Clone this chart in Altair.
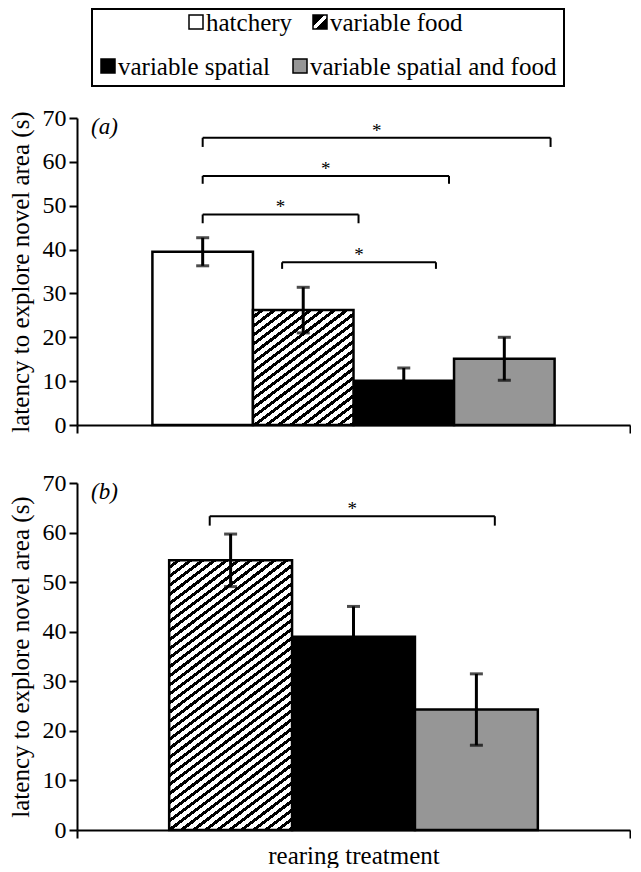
import math
import altair as alt
import pandas as pd

# ---------------- data ----------------
categories_a = ["hatchery", "variable food", "variable spatial", "variable spatial and food"]
means_a = [39.5, 26.2, 10.1, 15.1]
errs_a = [3.2, 5.2, 2.9, 4.9]

categories_b = ["variable food", "variable spatial", "variable spatial and food"]
means_b = [54.4, 39.0, 24.3]
errs_b = [5.3, 6.1, 7.2]

# significance brackets (x in bar-slot units, y in seconds)
bracket_a_left = [0.5, 0.5, 0.5, 1.29]
bracket_a_right = [3.96, 2.95, 2.05, 2.82]
bracket_a_y = [65.5, 56.8, 48.0, 37.1]
bracket_a_low = [63.4, 55.0, 46.0, 35.6]

bracket_b_left = [0.33]
bracket_b_right = [2.65]
bracket_b_y = [63.3]
bracket_b_low = [61.4]

legend_labels = ["hatchery", "variable food", "variable spatial", "variable spatial and food"]

# ---------------- style ----------------
FONT = "Liberation Serif"
W = 553
HA = 307
HB = 347
YMAX = 70
OUTER = 0.75
FILLS = {"hatchery": "white", "variable food": "white",
         "variable spatial": "black", "variable spatial and food": "#969696"}
HATCHED = "variable food"
YTITLE = "latency to explore novel area (s)"


def bars_df(cats, means, errs):
    n = len(cats)
    return pd.DataFrame({
        "cat": cats,
        "mean": means,
        "lo": [m - e for m, e in zip(means, errs)],
        "hi": [m + e for m, e in zip(means, errs)],
        "x0": [float(i) for i in range(n)],
        "x1": [float(i + 1) for i in range(n)],
        "xc": [i + 0.5 for i in range(n)],
    })


def brackets_df(left, right, y, low):
    return pd.DataFrame({
        "bl": left, "br": right, "by": y, "blow": low,
        "bc": [(l + r) / 2 for l, r in zip(left, right)],
    })


def hatch_gradient(w, h, angle_deg, period, duty=0.42):
    s = math.tan(math.radians(angle_deg))
    a, b = s, 1.0
    k = (a * w + b * h) / (a * a * w * w + b * b * h * h)
    n = max(1, round((a * w + b * h) / (a * period)))
    stops = []
    for i in range(n):
        st = i / n
        mid = (i + 1 - duty) / n
        en = (i + 1) / n
        stops += [
            alt.GradientStop(color="white", offset=st),
            alt.GradientStop(color="white", offset=mid),
            alt.GradientStop(color="black", offset=mid),
            alt.GradientStop(color="black", offset=en),
        ]
    return alt.LinearGradient(gradient="linear", stops=stops,
                              x1=0, y1=0, x2=k * a * w, y2=k * b * h)


def enc_x(field, dom, title):
    return alt.X(field, type="quantitative",
                 scale=alt.Scale(domain=dom, nice=False, zero=False, padding=0),
                 axis=alt.Axis(values=dom, labels=False, ticks=True, tickSize=8,
                               grid=False, title=title, titlePadding=4))


def enc_y(field):
    return alt.Y(field, type="quantitative",
                 scale=alt.Scale(domain=[0, YMAX], nice=False, zero=True, padding=0),
                 axis=alt.Axis(values=list(range(0, YMAX + 1, 10)), grid=False,
                               title=YTITLE))


def panel(cats, means, errs, bl, br, by, blow, height, xtitle, label,
          hatch_angle, hatch_period, extra_layers=()):
    n = len(cats)
    dom = [-OUTER, n + OUTER]
    slot_px = W / (n + 2 * OUTER)
    df = bars_df(cats, means, errs)
    bdf = brackets_df(bl, br, by, blow)

    plain = alt.Chart(df).transform_filter(
        alt.datum.cat != HATCHED
    ).mark_bar(stroke="black", strokeWidth=2.5).encode(
        x=enc_x("x0", dom, xtitle), x2=alt.X2("x1"),
        y=enc_y("mean"), y2=alt.datum(0),
        fill=alt.Fill("cat:N", scale=alt.Scale(domain=list(FILLS.keys()),
                                               range=list(FILLS.values())),
                      legend=None),
    )

    hv = means[cats.index(HATCHED)]
    grad = hatch_gradient(slot_px, hv * height / YMAX, hatch_angle, hatch_period)
    hatched = alt.Chart(df).transform_filter(
        alt.datum.cat == HATCHED
    ).mark_bar(stroke="black", strokeWidth=2.5, fill=grad).encode(
        x=enc_x("x0", dom, xtitle), x2=alt.X2("x1"),
        y=enc_y("mean"), y2=alt.datum(0),
    )

    err = alt.Chart(df).mark_rule(color="black", strokeWidth=3).encode(
        x=enc_x("xc", dom, xtitle), y=enc_y("lo"), y2=alt.Y2("hi"))
    cap_lo = alt.Chart(df).mark_tick(color="black", orient="horizontal",
                                     size=13, thickness=3).encode(
        x=enc_x("xc", dom, xtitle), y=enc_y("lo"))
    cap_hi = alt.Chart(df).mark_tick(color="black", orient="horizontal",
                                     size=13, thickness=3).encode(
        x=enc_x("xc", dom, xtitle), y=enc_y("hi"))

    br_h = alt.Chart(bdf).mark_rule(color="black", strokeWidth=2).encode(
        x=enc_x("bl", dom, xtitle), x2=alt.X2("br"), y=enc_y("by"))
    br_l = alt.Chart(bdf).mark_rule(color="black", strokeWidth=2).encode(
        x=enc_x("bl", dom, xtitle), y=enc_y("blow"), y2=alt.Y2("by"))
    br_r = alt.Chart(bdf).mark_rule(color="black", strokeWidth=2).encode(
        x=enc_x("br", dom, xtitle), y=enc_y("blow"), y2=alt.Y2("by"))
    stars = alt.Chart(bdf).mark_text(text="*", font=FONT, fontSize=19,
                                     baseline="alphabetic", dy=-1,
                                     color="black").encode(
        x=enc_x("bc", dom, xtitle), y=enc_y("by"))

    lab = alt.Chart(pd.DataFrame({"t": [label]})).mark_text(
        font=FONT, fontSize=23, fontStyle="italic", align="left",
        baseline="middle", color="black").encode(
        x=alt.value(14), y=alt.value(9), text="t:N")

    layers = [plain, hatched, err, cap_lo, cap_hi, br_h, br_l, br_r, stars, lab]
    layers += list(extra_layers)
    return alt.layer(*layers).properties(width=W, height=height)


# ---------------- manual legend (drawn above panel a) ----------------
one = pd.DataFrame({"k": [0]})
legend_layers = [
    alt.Chart(one).mark_rect(fill="white", fillOpacity=0, stroke="black",
                             strokeWidth=2).encode(
        x=alt.value(15), x2=alt.value(487), y=alt.value(-109), y2=alt.value(-32)),
]
row1, row2 = -96, -52
sq = 14
legend_pos = {
    "hatchery": (112, row1),
    "variable food": (236, row1),
    "variable spatial": (24, row2),
    "variable spatial and food": (216, row2),
}
icon_grad = alt.LinearGradient(
    gradient="linear", x1=0, y1=0, x2=1, y2=1,
    stops=[alt.GradientStop(color="black", offset=0),
           alt.GradientStop(color="black", offset=0.42),
           alt.GradientStop(color="white", offset=0.42),
           alt.GradientStop(color="white", offset=0.58),
           alt.GradientStop(color="black", offset=0.58),
           alt.GradientStop(color="black", offset=1)])
for name in legend_labels:
    px, py = legend_pos[name]
    fill = icon_grad if name == HATCHED else FILLS[name]
    legend_layers.append(
        alt.Chart(one).mark_rect(fill=fill, stroke="black", strokeWidth=1.5).encode(
            x=alt.value(px), x2=alt.value(px + sq),
            y=alt.value(py - sq / 2), y2=alt.value(py + sq / 2)))
    legend_layers.append(
        alt.Chart(pd.DataFrame({"t": [name]})).mark_text(
            font=FONT, fontSize=25, align="left", baseline="middle",
            color="black").encode(
            x=alt.value(px + sq + 3), y=alt.value(py + 1), text="t:N"))

panel_a = panel(categories_a, means_a, errs_a,
                bracket_a_left, bracket_a_right, bracket_a_y, bracket_a_low,
                HA, None, "(a)", 37, 12, extra_layers=legend_layers)
panel_b = panel(categories_b, means_b, errs_b,
                bracket_b_left, bracket_b_right, bracket_b_y, bracket_b_low,
                HB, "rearing treatment", "(b)", 37, 12)

chart = alt.vconcat(panel_a, panel_b, spacing=34).properties(
    padding=0
).configure_view(stroke=None).configure_axis(
    domainColor="black", domainWidth=2, tickColor="black", tickWidth=2,
    labelFont=FONT, labelFontSize=24, labelColor="black", labelPadding=3,
    titleFont=FONT, titleFontSize=25, titleFontWeight="normal",
    titleColor="black", titlePadding=6,
).configure_axisY(tickSize=8, titlePadding=9)

chart.save("out.html", embed_options={"renderer": "svg", "actions": False})
